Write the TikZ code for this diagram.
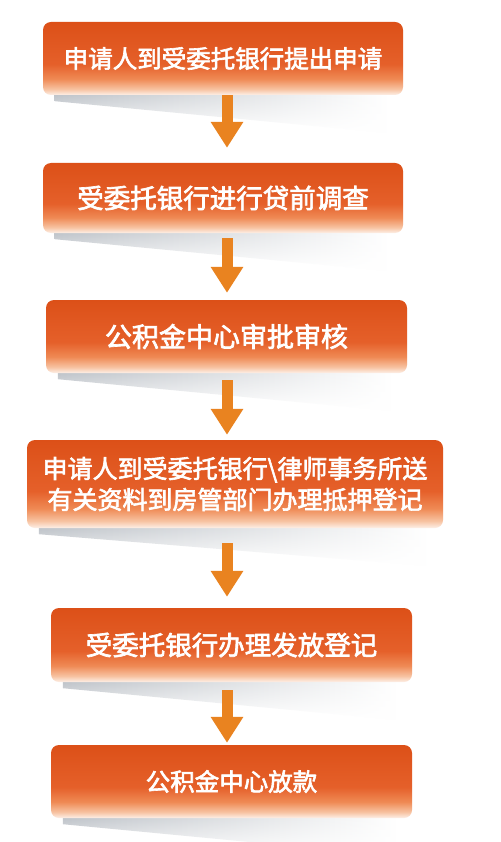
\documentclass[tikz,border=0pt]{standalone}
\usepackage{fontspec}
\setmainfont{Noto Sans CJK SC}[AutoFakeBold=2.5,BoldFeatures={FakeBold=1.2}]
\usetikzlibrary{arrows.meta,fadings}
\definecolor{boxtop}{HTML}{DC5018}
\definecolor{boxmid}{HTML}{E5602A}
\definecolor{boxlight}{HTML}{EF8A55}
\definecolor{boxpale}{HTML}{F7C3A2}
\definecolor{boxlow}{HTML}{FDF0E8}
\definecolor{arrowc}{HTML}{E98320}
\definecolor{shadowgray}{HTML}{BDC2C8}
\pgfdeclareverticalshading{boxshade}{100bp}{color(0bp)=(boxlow); color(25bp)=(boxlow); color(29bp)=(boxpale); color(36bp)=(boxlight); color(46bp)=(boxmid); color(75bp)=(boxtop); color(100bp)=(boxtop)}
\pgfdeclarelayer{background}
\pgfsetlayers{background,main}
\begin{document}
\begin{tikzpicture}[x=1pt,y=-1pt,
  stepbox/.style={shade, shading=boxshade, rounded corners=8pt, text=white, inner sep=0pt, align=center},
  flow/.style={draw=arrowc, line width=11pt, -{Triangle[width=31pt,length=26pt,fill=arrowc]}},
  shadowband/.style={left color=shadowgray, right color=white, path fading=south}]
\useasboundingbox (0,0) rectangle (500,842);
\coordinate (ax) at (227,0);

\node[stepbox, minimum width=360pt, minimum height=73pt, font=\fontsize{24.5}{28}\selectfont\bfseries] (b1) at (223,58.5) {申请人到受委托银行提出申请};
\node[stepbox, minimum width=360pt, minimum height=70pt, font=\fontsize{26.5}{30}\selectfont\bfseries] (b2) at (223,198) {受委托银行进行贷前调查};
\node[stepbox, minimum width=361pt, minimum height=73pt, font=\fontsize{27}{30}\selectfont\bfseries] (b3) at (226.5,336.5) {公积金中心审批审核};
\node[stepbox, minimum width=416pt, minimum height=88pt, font=\fontsize{25}{31}\selectfont\bfseries] (b4) at (235,484) {申请人到受委托银行\textbackslash 律师事务所送\\有关资料到房管部门办理抵押登记};
\node[stepbox, minimum width=361pt, minimum height=74pt, font=\fontsize{26.5}{30}\selectfont\bfseries] (b5) at (231.5,645) {受委托银行办理发放登记};
\node[stepbox, minimum width=361pt, minimum height=73pt, font=\fontsize{24.5}{28}\selectfont\bfseries] (b6) at (231.5,781.5) {公积金中心放款};

\begin{pgfonlayer}{background}
\fill[white] (0,0) rectangle (500,842);
\foreach \b in {b1,b2,b3,b4,b5,b6}{
  \shade[shadowband] ([xshift=12pt,yshift=2pt]\b.south west) -- ([xshift=-14pt,yshift=2pt]\b.south east) -- ([xshift=-14pt,yshift=-38pt]\b.south east) -- ([xshift=12pt,yshift=-6pt]\b.south west) -- cycle;
}
\end{pgfonlayer}

\draw[flow, shorten >=15pt] (b1.south -| ax) -- (b2.north -| ax);
\draw[flow, shorten <=5pt, shorten >=7pt] (b2.south -| ax) -- (b3.north -| ax);
\draw[flow, shorten <=7pt, shorten >=5pt] (b3.south -| ax) -- (b4.north -| ax);
\draw[flow, shorten <=15pt, shorten >=11pt] (b4.south -| ax) -- (b5.north -| ax);
\draw[flow, shorten <=8pt, shorten >=2pt] (b5.south -| ax) -- (b6.north -| ax);
\end{tikzpicture}
\end{document}
